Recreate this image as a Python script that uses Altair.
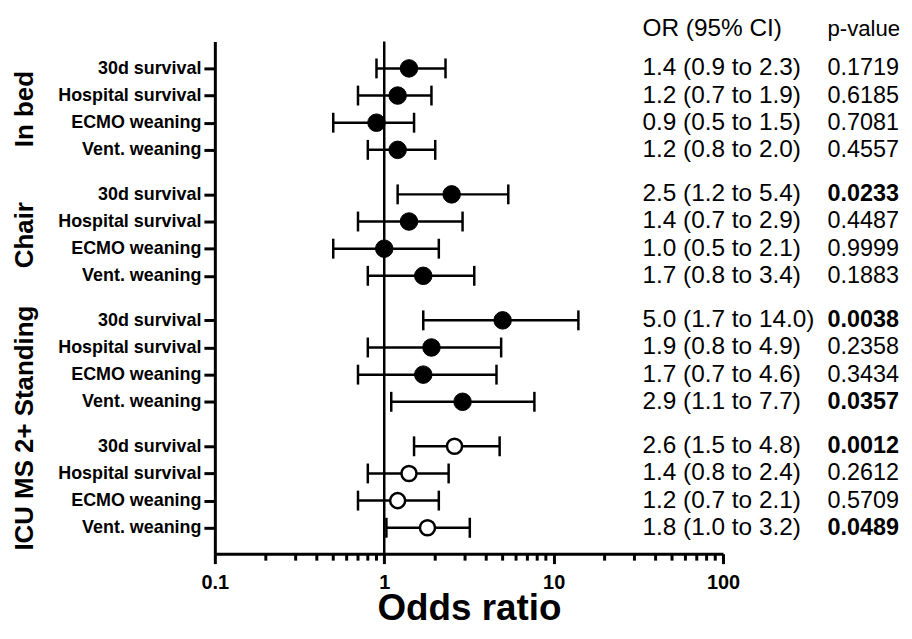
import json
import altair as alt
import pandas as pd

FONT = "Liberation Sans"

groups = ["In bed", "Chair", "Standing", "ICU MS 2+"]
outcomes = ["30d survival", "Hospital survival", "ECMO weaning", "Vent. weaning"]
odds = [1.4, 1.2, 0.9, 1.2, 2.5, 1.4, 1.0, 1.7, 5.0, 1.9, 1.7, 2.9, 2.6, 1.4, 1.2, 1.8]
ci_low = [0.9, 0.7, 0.5, 0.8, 1.2, 0.7, 0.5, 0.8, 1.7, 0.8, 0.7, 1.1, 1.5, 0.8, 0.7, 1.03]
ci_high = [2.3, 1.9, 1.5, 2.0, 5.4, 2.9, 2.1, 3.4, 14.0, 4.9, 4.6, 7.7, 4.8, 2.4, 2.1, 3.2]
or_text = ["1.4 (0.9 to 2.3)", "1.2 (0.7 to 1.9)", "0.9 (0.5 to 1.5)", "1.2 (0.8 to 2.0)",
           "2.5 (1.2 to 5.4)", "1.4 (0.7 to 2.9)", "1.0 (0.5 to 2.1)", "1.7 (0.8 to 3.4)",
           "5.0 (1.7 to 14.0)", "1.9 (0.8 to 4.9)", "1.7 (0.7 to 4.6)", "2.9 (1.1 to 7.7)",
           "2.6 (1.5 to 4.8)", "1.4 (0.8 to 2.4)", "1.2 (0.7 to 2.1)", "1.8 (1.0 to 3.2)"]
p_text = ["0.1719", "0.6185", "0.7081", "0.4557",
          "0.0233", "0.4487", "0.9999", "0.1883",
          "0.0038", "0.2358", "0.3434", "0.0357",
          "0.0012", "0.2612", "0.5709", "0.0489"]
headers = ["OR (95% CI)", "p-value"]
x_major = [0.1, 1, 10, 100]
x_minor = [0.2, 0.3, 0.4, 0.5, 0.6, 0.7, 0.8, 0.9, 2.0, 3.0, 4.0, 5.0, 6.0, 7.0, 8.0, 9.0,
           20.0, 30.0, 40.0, 50.0, 60.0, 70.0, 80.0, 90.0]

STRIDE = 4.64
Y_DOMAIN = [-0.99, 17.875]
rows = []
for k in range(16):
    g, i = divmod(k, 4)
    rows.append(dict(group=groups[g], outcome=outcomes[i], gi=g, pos=g * STRIDE + i,
                     OR=odds[k], lo=ci_low[k], hi=ci_high[k], ortxt=or_text[k],
                     ptxt=p_text[k], sig=float(p_text[k]) < 0.05))
df = pd.DataFrame(rows)
gdf = pd.DataFrame({"group": groups, "pos": [g * STRIDE + 1.5 for g in range(4)]})
ypos = [g * STRIDE + i for g in range(4) for i in range(4)]

label_expr = json.dumps(outcomes) + "[round(datum.value*100) % 464 / 100]"

PLOT_H = 515
yscale = alt.Scale(domain=Y_DOMAIN, reverse=True, zero=False, nice=False)
y_axis = alt.Axis(values=ypos, labelExpr=label_expr, labelFontSize=18,
                  labelFontWeight="bold", labelColor="black", labelFont=FONT,
                  tickSize=11, tickWidth=3, tickColor="black", tickCount=40,
                  domainColor="black", domainWidth=3, labelPadding=3,
                  grid=False, orient="left")
Y_AX = alt.Y("pos:Q", scale=yscale, axis=y_axis, title=None)
Y = alt.Y("pos:Q", scale=yscale, axis=None, title=None)

xscale = alt.Scale(type="log", domain=[0.1, 100], nice=False)
main_axis = alt.Axis(values=x_major, format="~g", tickCount=10,
                     labelFontSize=20, labelFontWeight="bold", labelOverlap=False,
                     labelColor="black", labelFont=FONT, labelFlush=False,
                     tickSize=10, tickWidth=3, tickColor="black",
                     domainColor="black", domainWidth=3, labelPadding=9, grid=False,
                     titleFontSize=37, titleFontWeight="bold", titleFont=FONT,
                     titleColor="black", titlePadding=-2, orient="bottom")


def xq(field):
    return alt.X(field, scale=xscale, axis=None, title=None)


base = alt.Chart(df)

ref_line = alt.Chart(pd.DataFrame({"v": [1.0]})).mark_rule(
    strokeWidth=2.5, color="black").encode(x=xq("v:Q"))

minor_ticks = alt.Chart(pd.DataFrame({"m": x_minor})).mark_tick(
    orient="vertical", size=7, thickness=3, color="black", opacity=1,
    yOffset=3.5).encode(
    x=xq("m:Q"),
    y=alt.YDatum(Y_DOMAIN[1], type="quantitative", scale=yscale, axis=None))

bars = base.mark_rule(strokeWidth=2.5, color="black").encode(
    x=alt.X("lo:Q", scale=xscale, axis=main_axis, title="Odds ratio"),
    x2="hi:Q", y=Y_AX)

cap_lo = base.mark_tick(orient="vertical", size=20, thickness=2.5, color="black",
                        opacity=1).encode(x=xq("lo:Q"), y=Y)
cap_hi = base.mark_tick(orient="vertical", size=20, thickness=2.5, color="black",
                        opacity=1).encode(x=xq("hi:Q"), y=Y)

filled = base.transform_filter("datum.gi < 3").mark_circle(
    size=310, fill="black", stroke="black", strokeWidth=1, opacity=1).encode(
    x=xq("OR:Q"), y=Y)
hollow = base.transform_filter("datum.gi == 3").mark_circle(
    size=230, fill="white", stroke="black", strokeWidth=2.5, opacity=1).encode(
    x=xq("OR:Q"), y=Y)

or_col = base.mark_text(align="left", baseline="middle", fontSize=24.5, font=FONT,
                        color="black").encode(
    x=alt.value(430), y=Y, text="ortxt:N")
p_plain = base.transform_filter("!datum.sig").mark_text(
    align="left", baseline="middle", fontSize=23.5, font=FONT, color="black").encode(
    x=alt.value(616), y=Y, text="ptxt:N")
p_bold = base.transform_filter("datum.sig").mark_text(
    align="left", baseline="middle", fontSize=23.5, font=FONT, fontWeight="bold",
    color="black").encode(
    x=alt.value(616), y=Y, text="ptxt:N")

group_labels = alt.Chart(gdf).mark_text(
    angle=270, fontSize=26, fontWeight="bold", font=FONT, align="center",
    baseline="middle", color="black").encode(
    x=alt.value(-191), y=Y, text="group:N")

hdr1 = alt.Chart(pd.DataFrame({"t": [headers[0]]})).mark_text(
    align="left", baseline="middle", fontSize=24.5, font=FONT, color="black").encode(
    x=alt.value(430), y=alt.value(-13), text="t:N")
hdr2 = alt.Chart(pd.DataFrame({"t": [headers[1]]})).mark_text(
    align="left", baseline="middle", fontSize=22.3, font=FONT, color="black").encode(
    x=alt.value(616), y=alt.value(-13), text="t:N")

chart = alt.layer(
    ref_line, bars, cap_lo, cap_hi, filled, hollow, minor_ticks,
    or_col, p_plain, p_bold, group_labels, hdr1, hdr2
).resolve_axis(x="independent", y="independent").properties(
    width=511, height=PLOT_H,
    padding={"left": 208, "top": 32, "right": 182, "bottom": 70},
    autosize=alt.AutoSizeParams(type="none"),
    background="white",
).configure_view(stroke=None)

chart.save("out.html", embed_options={"renderer": "svg", "actions": False})
